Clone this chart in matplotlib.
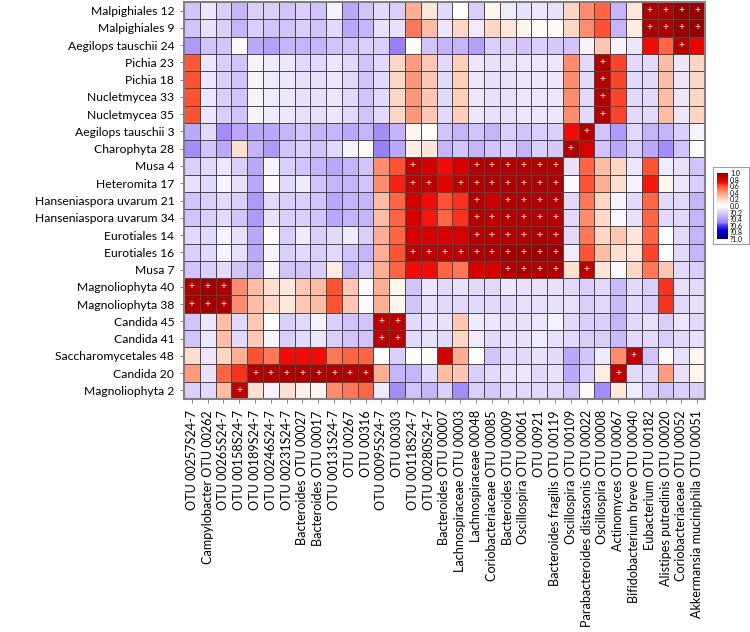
import numpy as np
import matplotlib
matplotlib.use("Agg")
import matplotlib.pyplot as plt
from matplotlib.colors import LinearSegmentedColormap

# labels =====================================================================
rows = ["Malpighiales 12", "Malpighiales 9", "Aegilops tauschii 24", "Pichia 23",
        "Pichia 18", "Nucletmycea 33", "Nucletmycea 35", "Aegilops tauschii 3",
        "Charophyta 28", "Musa 4", "Heteromita 17", "Hanseniaspora uvarum 21",
        "Hanseniaspora uvarum 34", "Eurotiales 14", "Eurotiales 16", "Musa 7",
        "Magnoliophyta 40", "Magnoliophyta 38", "Candida 45", "Candida 41",
        "Saccharomycetales 48", "Candida 20", "Magnoliophyta 2"]

cols = ["OTU 00257S24-7", "Campylobacter OTU 00262", "OTU 00265S24-7", "OTU 00158S24-7",
        "OTU 00189S24-7", "OTU 00246S24-7", "OTU 00231S24-7", "Bacteroides OTU 00027",
        "Bacteroides OTU 00017", "OTU 00131S24-7", "OTU 00267", "OTU 00316",
        "OTU 00095S24-7", "OTU 00303", "OTU 00118S24-7", "OTU 00280S24-7",
        "Bacteroides OTU 00007", "Lachnospiraceae OTU 00003", "Lachnospiraceae 00048",
        "Coriobacteriaceae OTU 00085", "Bacteroides OTU 00009", "Oscillospira OTU 00061",
        "OTU 00921", "Bacteroides fragilis OTU 00119", "Oscillospira OTU 00109",
        "Parabacteroides distasonis OTU 00022", "Oscillospira OTU 00008",
        "Actinomyces OTU 00067", "Bifidobacterium breve OTU 00040", "Eubacterium OTU 00182",
        "Alistipes putredinis OTU 00020", "Coriobacteriaceae OTU 00052",
        "Akkermansia muciniphila OTU 00051"]

# correlation values ==========================================================
corr = [
    [-0.25, -0.1, -0.2, -0.3, -0.2, -0.2, -0.25, -0.2, -0.25, -0.05,
     -0.35, -0.25, -0.15, -0.2, 0.35, 0.12, -0.15, 0.0, -0.2, 0.05, -0.08, -0.12, -0.1,
     -0.12, 0.2, 0.45, 0.55, -0.3, 0.12, 0.92, 0.92, 0.97, 0.97],
    [-0.25, -0.12, -0.2, -0.3, -0.2, -0.25, -0.25, -0.2, -0.25, -0.15,
     -0.35, -0.3, -0.12, -0.12, 0.5, 0.3, -0.1, 0.2, -0.08, 0.2, 0.12, 0.05, 0.02,
     0.03, 0.2, 0.45, 0.6, -0.3, 0.1, 0.92, 0.92, 0.97, 0.97],
    [-0.4, -0.25, -0.25, -0.03, -0.35, -0.38, -0.3, -0.3, -0.3, -0.25,
     -0.25, -0.2, -0.2, -0.5, 0.0, -0.25, -0.3, -0.3, -0.38, -0.2, -0.2, -0.25, -0.2,
     -0.22, -0.25, -0.05, 0.25, -0.05, -0.1, 0.72, 0.55, 0.9, 0.75],
    [0.58, -0.1, -0.2, -0.25, -0.05, -0.08, -0.1, -0.15, -0.15, -0.1,
     -0.15, -0.25, -0.15, 0.2, 0.4, 0.25, -0.15, 0.22, -0.1, -0.12, -0.12, -0.1, -0.1,
     -0.1, 0.45, -0.15, 0.9, 0.62, -0.15, -0.15, 0.3, -0.1, 0.2],
    [0.6, -0.1, -0.2, -0.25, -0.05, -0.08, -0.1, -0.12, -0.12, -0.1,
     -0.15, -0.25, -0.15, 0.2, 0.42, 0.25, -0.15, 0.22, -0.1, -0.12, -0.12, -0.1, -0.1,
     -0.1, 0.45, -0.15, 0.9, 0.62, -0.15, -0.15, 0.3, -0.1, 0.2],
    [0.6, -0.1, -0.2, -0.25, -0.05, -0.08, -0.1, -0.12, -0.12, -0.1,
     -0.15, -0.25, -0.15, 0.2, 0.42, 0.25, -0.15, 0.22, -0.1, -0.12, -0.12, -0.1, -0.1,
     -0.1, 0.45, -0.15, 0.9, 0.62, -0.15, -0.15, 0.3, -0.1, 0.2],
    [0.6, -0.1, -0.2, -0.25, -0.05, -0.08, -0.1, -0.12, -0.12, -0.1,
     -0.15, -0.25, -0.15, 0.2, 0.42, 0.25, -0.15, 0.22, -0.1, -0.12, -0.12, -0.1, -0.1,
     -0.1, 0.45, -0.15, 0.9, 0.62, -0.15, -0.15, 0.3, -0.1, 0.2],
    [-0.35, -0.15, -0.45, -0.35, -0.35, -0.35, -0.3, -0.25, -0.3, -0.3,
     -0.35, -0.3, -0.45, -0.3, 0.05, 0.0, -0.25, -0.3, -0.25, -0.3, -0.2, -0.25, -0.2,
     -0.2, 0.72, 0.9, -0.25, -0.4, -0.15, -0.3, -0.3, -0.2, -0.05],
    [-0.45, -0.25, -0.35, 0.15, -0.3, -0.4, -0.25, -0.2, -0.25, -0.15,
     -0.05, 0.03, -0.5, -0.35, 0.08, 0.12, -0.3, -0.25, -0.3, -0.25, -0.2, -0.3, -0.2,
     -0.22, 0.9, 0.8, -0.25, -0.35, -0.2, -0.35, -0.45, -0.25, -0.02],
    [-0.2, -0.15, -0.1, -0.2, -0.35, -0.05, -0.2, -0.25, -0.3, -0.35,
     -0.3, -0.25, 0.45, 0.6, 0.88, 0.8, 0.72, 0.8, 0.9, 0.9, 0.9, 0.9, 0.9,
     0.9, -0.12, 0.55, 0.3, 0.2, -0.1, 0.6, -0.08, -0.12, -0.25],
    [-0.12, -0.15, -0.05, -0.12, -0.35, -0.02, -0.15, -0.08, -0.25, -0.3,
     -0.3, -0.25, 0.45, 0.68, 0.88, 0.88, 0.78, 0.88, 0.92, 0.92, 0.92, 0.92, 0.92,
     0.92, -0.02, 0.6, 0.35, 0.15, -0.05, 0.7, 0.05, -0.1, -0.2],
    [-0.25, -0.2, -0.15, -0.2, -0.4, -0.15, -0.2, -0.2, -0.25, -0.35,
     -0.3, -0.3, 0.3, 0.55, 0.82, 0.72, 0.6, 0.65, 0.9, 0.85, 0.9, 0.9, 0.9,
     0.9, -0.15, 0.5, 0.2, -0.05, -0.15, 0.55, -0.15, -0.15, -0.3],
    [-0.25, -0.2, -0.15, -0.25, -0.4, -0.12, -0.2, -0.2, -0.25, -0.35,
     -0.3, -0.3, 0.3, 0.55, 0.8, 0.7, 0.55, 0.65, 0.9, 0.88, 0.9, 0.9, 0.9,
     0.9, -0.15, 0.45, 0.18, -0.03, -0.12, 0.55, -0.15, -0.15, -0.3],
    [-0.15, -0.15, -0.05, -0.12, -0.35, 0.0, -0.2, -0.08, -0.2, -0.15,
     -0.08, -0.2, 0.35, 0.55, 0.8, 0.8, 0.8, 0.8, 0.9, 0.9, 0.9, 0.9, 0.92,
     0.92, -0.15, 0.5, 0.2, 0.25, 0.12, 0.55, 0.0, -0.15, -0.3],
    [-0.2, -0.15, -0.05, -0.12, -0.35, -0.05, -0.2, -0.15, -0.2, -0.15,
     -0.25, -0.3, 0.35, 0.6, 0.88, 0.88, 0.88, 0.88, 0.92, 0.92, 0.94, 0.94, 0.95,
     0.95, -0.08, 0.6, 0.3, 0.15, 0.12, 0.62, 0.0, -0.15, -0.3],
    [-0.25, -0.2, -0.15, -0.25, -0.3, -0.05, -0.25, -0.25, -0.2, 0.1,
     -0.3, -0.2, 0.35, 0.55, 0.72, 0.72, 0.55, 0.5, 0.8, 0.8, 0.9, 0.9, 0.9,
     0.9, 0.15, 0.88, 0.12, -0.02, 0.2, 0.5, 0.25, -0.15, -0.2],
    [0.92, 0.95, 0.92, 0.45, 0.3, 0.15, 0.12, 0.25, 0.3, 0.6,
     0.25, -0.02, 0.35, 0.05, -0.25, -0.1, -0.15, -0.12, -0.15, -0.15, -0.1, -0.12, -0.12,
     -0.12, -0.15, -0.2, -0.15, -0.28, -0.15, -0.2, 0.65, -0.12, -0.15],
    [0.92, 0.95, 0.92, 0.45, 0.3, 0.18, 0.12, 0.25, 0.3, 0.6,
     0.25, -0.02, 0.35, 0.05, -0.25, -0.12, -0.15, -0.15, -0.15, -0.15, -0.15, -0.12, -0.12,
     -0.12, -0.12, -0.2, -0.15, -0.28, -0.15, -0.2, 0.65, -0.15, -0.12],
    [-0.25, -0.1, 0.3, -0.15, 0.25, 0.0, -0.2, -0.15, -0.05, -0.2,
     -0.25, -0.25, 0.88, 0.88, -0.15, -0.12, -0.12, 0.25, -0.08, -0.1, -0.12, -0.12, -0.1,
     -0.05, -0.15, -0.2, -0.2, -0.3, -0.15, -0.12, -0.2, -0.1, -0.15],
    [-0.25, -0.1, 0.3, -0.15, 0.25, -0.05, -0.2, -0.15, -0.1, -0.2,
     -0.25, -0.25, 0.88, 0.88, -0.15, -0.12, -0.15, 0.2, -0.08, -0.15, -0.12, -0.12, -0.08,
     -0.12, -0.15, -0.2, -0.2, -0.28, -0.15, -0.15, -0.2, -0.15, -0.12],
    [0.15, -0.1, 0.2, 0.35, 0.6, 0.5, 0.72, 0.72, 0.72, 0.5,
     0.55, 0.55, 0.0, -0.2, 0.0, 0.0, 0.8, 0.35, 0.0, -0.25, -0.15, -0.15, -0.12,
     -0.15, -0.35, -0.25, -0.08, 0.45, 0.88, -0.25, 0.02, -0.12, 0.05],
    [0.4, -0.12, 0.55, 0.65, 0.9, 0.9, 0.92, 0.92, 0.92, 0.92,
     0.9, 0.9, 0.35, -0.3, -0.3, -0.15, 0.3, 0.25, -0.2, -0.15, -0.12, -0.1, -0.15,
     -0.12, -0.35, -0.2, 0.1, 0.88, -0.15, -0.15, 0.4, -0.12, 0.05],
    [-0.2, -0.15, 0.3, 0.88, 0.15, -0.05, 0.15, 0.08, 0.05, 0.45,
     0.5, 0.55, -0.08, -0.45, -0.25, -0.3, -0.2, -0.45, -0.2, -0.22, -0.15, -0.15, -0.15,
     -0.15, -0.25, 0.03, -0.45, 0.12, -0.08, -0.2, -0.25, -0.2, -0.2],
]

# significant cells (column indices per row) ==================================
sig = [
    [29, 30, 31, 32], [29, 30, 31, 32], [31], [26], [26], [26], [26], [25], [24],
    [14, 18, 19, 20, 21, 22, 23],
    [14, 15, 17, 18, 19, 20, 21, 22, 23],
    [18, 20, 21, 22, 23],
    [18, 19, 20, 21, 22, 23],
    [18, 19, 20, 21, 22, 23],
    [14, 15, 16, 17, 18, 19, 20, 21, 22, 23],
    [20, 21, 22, 23, 25],
    [0, 1, 2], [0, 1, 2], [12, 13], [12, 13], [28],
    [4, 5, 6, 7, 8, 9, 10, 11, 27],
    [3],
]

cbar_labels = ["?1.0", "?0.8", "?0.6", "?0.4", "?0.2", "0.0", "0.2", "0.4", "0.6", "0.8", "1.0"]

# colormap ====================================================================
cmap = LinearSegmentedColormap.from_list("bwr_custom", [
    (0.0, (0.0, 0.0, 0.45)),
    (0.125, (0.0, 0.0, 0.85)),
    (0.2, (0.28, 0.2, 0.95)),
    (0.25, (0.6, 0.5, 0.98)),
    (0.375, (0.82, 0.76, 0.98)),
    (0.45, (0.93, 0.9, 0.99)),
    (0.5, (1.0, 1.0, 1.0)),
    (0.575, (1.0, 0.88, 0.82)),
    (0.65, (1.0, 0.74, 0.65)),
    (0.725, (1.0, 0.55, 0.43)),
    (0.8, (1.0, 0.32, 0.2)),
    (0.86, (0.95, 0.05, 0.03)),
    (0.9, (0.85, 0.0, 0.0)),
    (0.95, (0.72, 0.0, 0.0)),
    (1.0, (0.55, 0.0, 0.0)),
])

plt.rcParams['font.family'] = ['Lato', 'DejaVu Sans']

fig = plt.figure(figsize=(7.5, 6.32), dpi=100)
ax = fig.add_axes([184 / 750, 1 - 399 / 632, 521 / 750, 397 / 632])

data = np.array(corr)
mesh = ax.pcolormesh(data, cmap=cmap, vmin=-1, vmax=1,
                     edgecolors="#4a4a4a", linewidth=0.6)
ax.set_xlim(0, len(cols))
ax.set_ylim(len(rows), 0)

for r, cl in enumerate(sig):
    for c in cl:
        ax.text(c + 0.5, r + 0.5, "+", color="white", ha="center", va="center",
                fontsize=7.5)

ax.set_yticks(np.arange(len(rows)) + 0.5)
ax.set_yticklabels(rows, fontsize=8.7)
ax.set_xticks(np.arange(len(cols)) + 0.5)
ax.set_xticklabels(cols, rotation=90, fontsize=9.1)
ax.tick_params(length=3, width=0.6, color="#707070", pad=4)
ax.tick_params(axis="x", pad=5)
for sp in ax.spines.values():
    sp.set_color("#808080")
    sp.set_linewidth(1.5)

# colorbar in a little white box ==============================================
box = fig.add_axes([713 / 750, 1 - 244 / 632, 36 / 750, 77 / 632])
box.set_xticks([])
box.set_yticks([])
for sp in box.spines.values():
    sp.set_color("#a0a0a0")
    sp.set_linewidth(0.8)
cax = fig.add_axes([717 / 750, 1 - 239 / 632, 11 / 750, 66 / 632])
cb = fig.colorbar(mesh, cax=cax, ticks=np.linspace(-1, 1, 11))
cb.ax.set_yticklabels(cbar_labels, fontsize=5)
cb.ax.tick_params(length=0, pad=1.5)
cb.outline.set_visible(False)

fig.savefig("out.png", dpi=100)
